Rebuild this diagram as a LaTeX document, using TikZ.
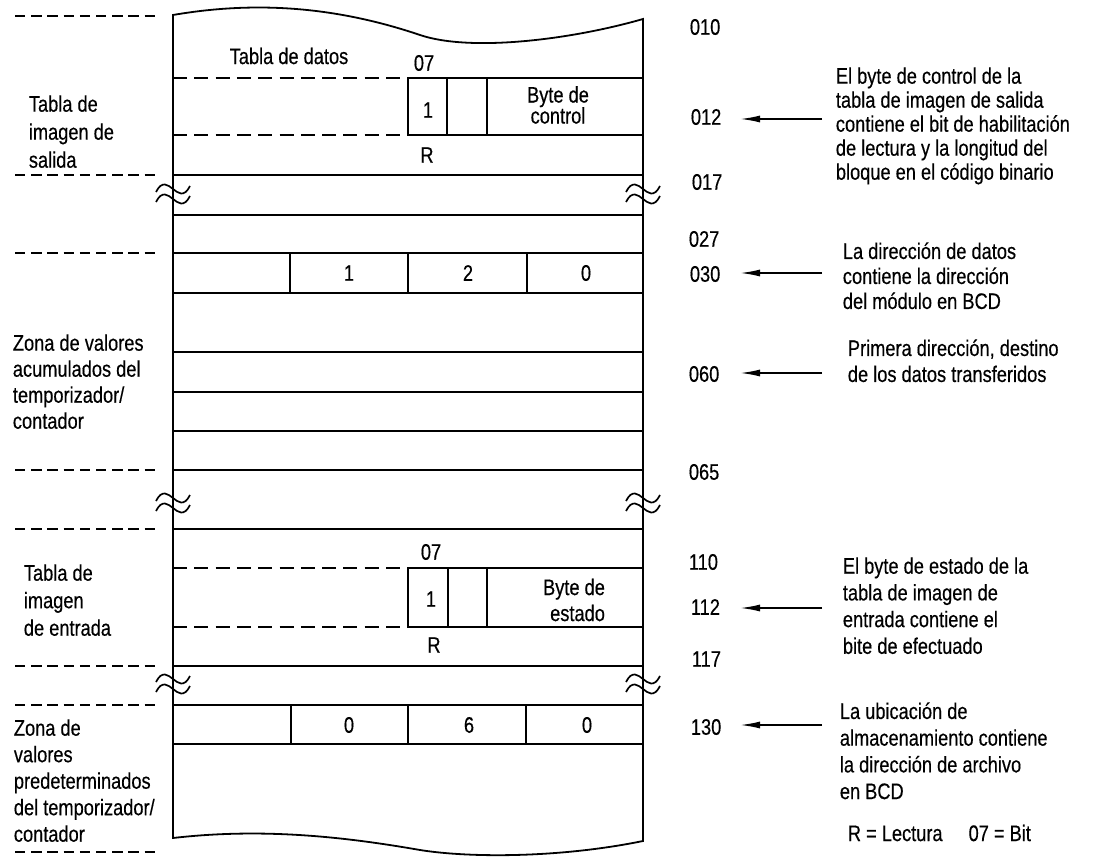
\documentclass[tikz,border=0pt]{standalone}
\usepackage{fontspec}
\setmainfont{Liberation Sans}[FakeStretch=0.81,FakeBold=0.4]
\usetikzlibrary{arrows.meta}
\newcommand{\fsz}[1]{\fontsize{22.5}{#1}\selectfont}
\begin{document}
\begin{tikzpicture}[x=1pt,y=-1pt,
  line width=1.8pt,
  txt/.style={inner sep=0pt, font=\fsz{26}},
  lbl/.style={txt, anchor=north west, align=left},
  addr/.style={txt, anchor=west},
  cell/.style={txt, anchor=center},
  marker/.style={line width=1.8pt, dash pattern=on 10.4pt off 5.8pt},
  indash/.style={line width=1.8pt, dash pattern=on 14pt off 7.3pt},
  ptr/.style={line width=1.7pt, -{Latex[length=20pt,width=7pt]}},
  brkmark/.pic={
    \draw[line width=1.7pt] (-17,-2) .. controls (-11,-14) and (-5,-9) .. (0,-5) .. controls (5,-1) and (11,4) .. (17,-8);
    \draw[line width=1.7pt] (-17,8) .. controls (-11,-4) and (-5,1) .. (0,5) .. controls (5,9) and (11,14) .. (17,2);
  }
]
\useasboundingbox (0,0) rectangle (1105,858);

% outer box with wavy top and bottom
\draw (173,15) .. controls (260,0) and (340,8) .. (420,35)
      .. controls (470,52) and (570,40) .. (643,19) -- (643,841)
      .. controls (560,858) and (470,858) .. (420,850)
      .. controls (340,836) and (260,828) .. (173,838) -- cycle;

% rows, output image table
\draw[indash] (173,78) -- (408,78);
\draw (408,78) -- (643,78);
\draw[indash] (173,135) -- (408,135);
\draw (408,135) -- (643,135);
\draw (408,78) -- (408,135) (447,78) -- (447,135) (487,78) -- (487,135);
\draw (173,175) -- (643,175);
\draw (173,215) -- (643,215);
\draw (173,253) -- (643,253);
\draw (173,293) -- (643,293);
\draw (290,253) -- (290,293) (408,253) -- (408,293) (527,253) -- (527,293);
\draw (173,352) -- (643,352);
\draw (173,392) -- (643,392);
\draw (173,431) -- (643,431);
\draw (173,470) -- (643,470);
\draw (173,529) -- (643,529);
\draw[indash] (173,568) -- (408,568);
\draw (408,568) -- (643,568);
\draw[indash] (173,627) -- (408,627);
\draw (408,627) -- (643,627);
\draw (408,568) -- (408,627) (448,568) -- (448,627) (487,568) -- (487,627);
\draw (173,666) -- (643,666);
\draw (173,705) -- (643,705);
\draw (173,744) -- (643,744);
\draw (291,705) -- (291,744) (408,705) -- (408,744) (526,705) -- (526,744);

% break marks
\pic at (173,194) {brkmark};
\pic at (643,194) {brkmark};
\pic at (173,503) {brkmark};
\pic at (643,503) {brkmark};
\pic at (173,684) {brkmark};
\pic at (643,684) {brkmark};

% left dashed markers
\foreach \yy in {16,175,253,470,529,666,705,852}
  \draw[marker] (15,\yy) -- (155,\yy);

% left labels
\node[lbl, font=\fsz{28}] (lab1) at (28,94.5) {Tabla de\\imagen de\\salida};
\node[lbl, font=\fsz{26}] (lab2) at (12,333.5) {Zona de valores\\acumulados del\\temporizador/\\contador};
\node[lbl, font=\fsz{27.5}] (lab3) at (23,563.5) {Tabla de\\imagen\\de entrada};
\node[lbl, font=\fsz{26.5}] (lab4) at (13,718.5) {Zona de\\valores\\predeterminados\\del temporizador/\\contador};

% texts inside the box
\node[cell] (tdatos) at (289,56) {Tabla de datos};
\node[cell] (b07a) at (424,63) {07};
\node[cell] (one1) at (428,110) {1};
\node[cell, align=center, font=\fsz{21}] (bctl) at (558,105) {Byte de\\control};
\node[cell] (r1) at (427,155) {R};
\node[cell] (c1) at (349,273) {1};
\node[cell] (c2) at (468,273) {2};
\node[cell] (c3) at (586,273) {0};
\node[cell] (b07b) at (431,552) {07};
\node[cell] (one2) at (431,599) {1};
\node[cell, align=right, font=\fsz{26}] (best) at (574,600) {Byte de\\estado};
\node[cell] (r2) at (434,645) {R};
\node[cell] (d1) at (349,725) {0};
\node[cell] (d2) at (469,725) {6};
\node[cell] (d3) at (587,725) {0};

% addresses
\node[addr] (a010) at (689,27) {010};
\node[addr] (a012) at (690,117) {012};
\node[addr] (a017) at (691,182) {017};
\node[addr] (a027) at (688,239) {027};
\node[addr] (a030) at (689,274) {030};
\node[addr] (a060) at (688,374) {060};
\node[addr] (a065) at (688,472) {065};
\node[addr] (a110) at (688,562) {110};
\node[addr] (a112) at (690,607) {112};
\node[addr] (a117) at (691,659) {117};
\node[addr] (a130) at (690,727) {130};

% annotations
\node[lbl, font=\fsz{24}] (n1) at (835,66.5) {El byte de control de la\\tabla de imagen de salida\\contiene el bit de habilitación\\de lectura y la longitud del\\bloque en el código binario};
\node[lbl, font=\fsz{25}] (n2) at (842,241.5) {La dirección de datos\\contiene la dirección\\del módulo en BCD};
\node[lbl, font=\fsz{26}] (n3) at (847,338.5) {Primera dirección, destino\\de los datos transferidos};
\node[lbl, font=\fsz{26.7}] (n4) at (842,556.5) {El byte de estado de la\\tabla de imagen de\\entrada contiene el\\bite de efectuado};
\node[lbl, font=\fsz{26.7}] (n5) at (839,701.5) {La ubicación de\\almacenamiento contiene\\la dirección de archivo\\en BCD};
\node[addr] (legend) at (847,833) {R = Lectura\hspace{26pt}07 = Bit};

% arrows
\coordinate (s012) at (822,119);
\coordinate (e012) at (740,119);
\coordinate (s030) at (822,273);
\coordinate (e030) at (740,273);
\coordinate (s060) at (822,373);
\coordinate (e060) at (740,373);
\coordinate (s112) at (822,608);
\coordinate (e112) at (740,608);
\coordinate (s130) at (822,725);
\coordinate (e130) at (740,725);
\draw[ptr] (s012) -- (e012);
\draw[ptr] (s030) -- (e030);
\draw[ptr] (s060) -- (e060);
\draw[ptr] (s112) -- (e112);
\draw[ptr] (s130) -- (e130);
\end{tikzpicture}
\end{document}
